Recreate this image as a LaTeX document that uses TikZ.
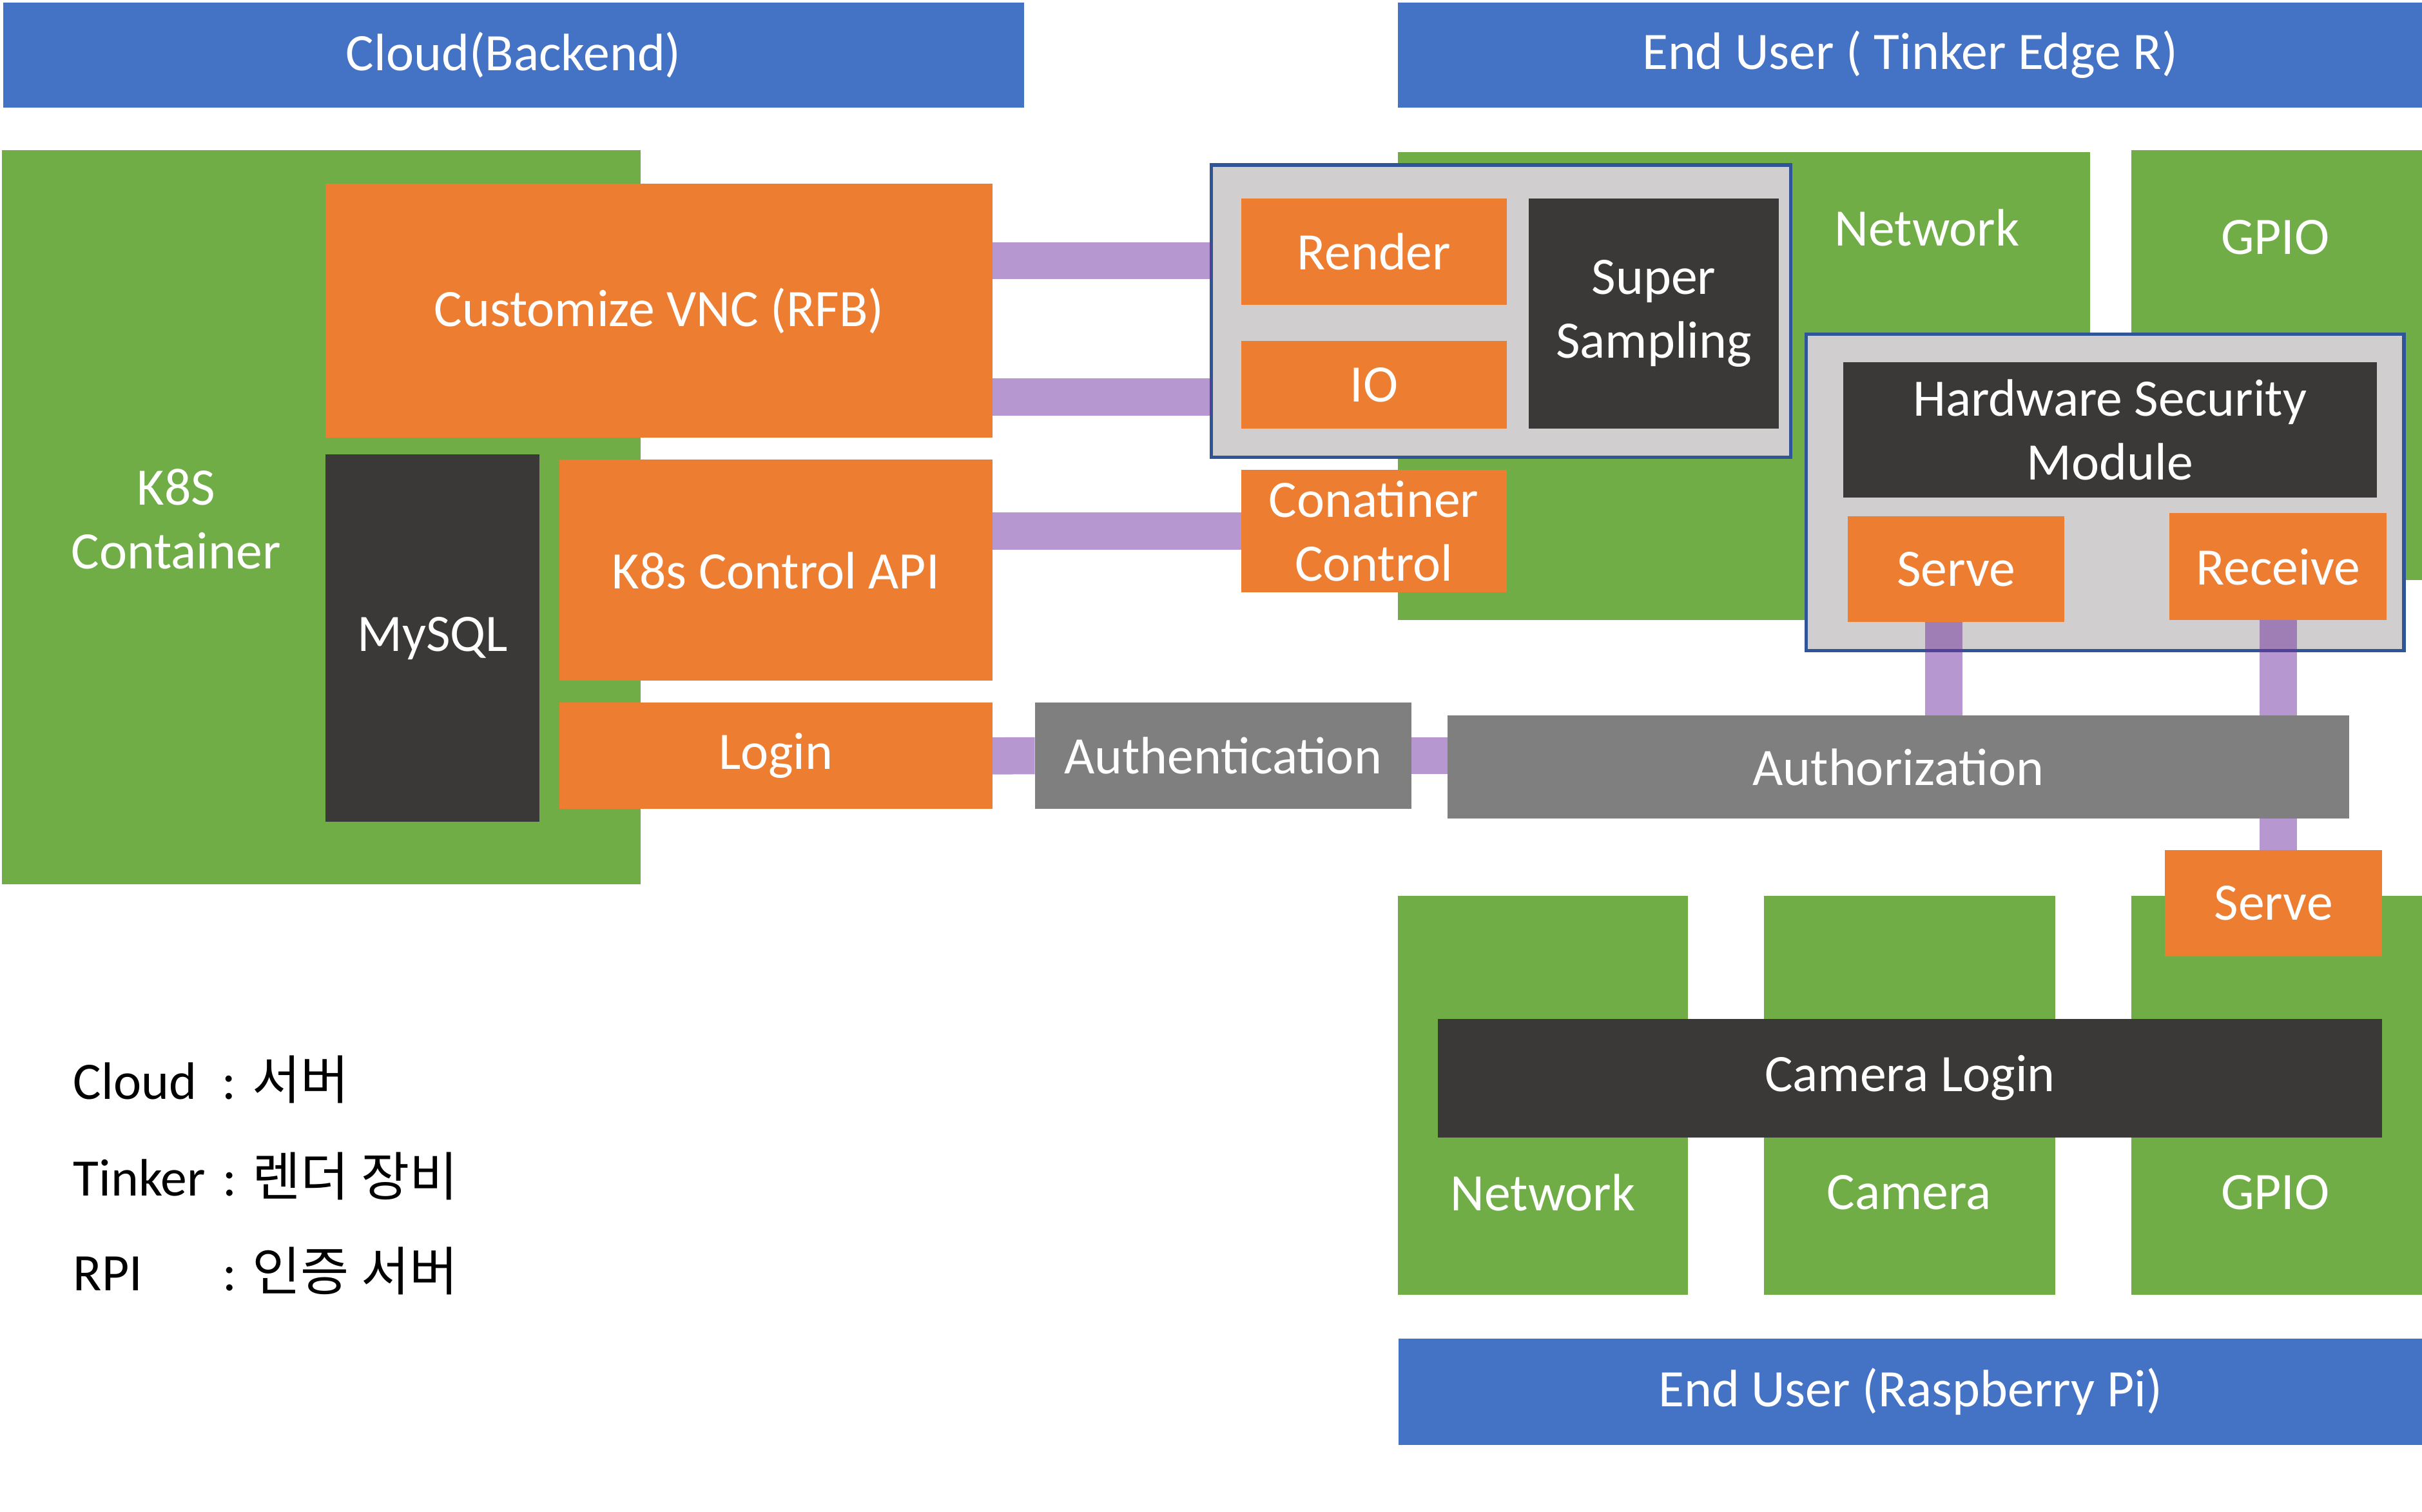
\documentclass[tikz,border=0pt]{standalone}
\usepackage{fontspec}
\setmainfont{Carlito}
\newfontfamily\kofont{Noto Sans CJK KR}
\usetikzlibrary{positioning}
\usetikzlibrary{calc}
\definecolor{ublue}{HTML}{4472C4}
\definecolor{ugreen}{HTML}{70AD47}
\definecolor{uorange}{HTML}{ED7D31}
\definecolor{udark}{HTML}{3B3838}
\definecolor{ugray}{HTML}{7F7F7F}
\definecolor{ulight}{HTML}{D0CECE}
\definecolor{uborder}{HTML}{2F5597}
\definecolor{upurple}{HTML}{7030A0}

\begin{document}
\begin{tikzpicture}[every node/.style={inner sep=0pt, outer sep=0pt, font=\fontsize{9.7}{11.7}\selectfont},
  box/.style={text=white, align=center},
  grp/.style={fill=ulight, draw=uborder, line width=0.65pt},
  link/.style={draw=upurple, draw opacity=0.5, line width=0.24cm}]
\useasboundingbox (0,0) rectangle (15.68,-9.788);
% banners
\node (cloud) at (3.325,-0.355) [box, fill=ublue, minimum width=6.61cm, minimum height=0.68cm] {Cloud(Backend)};
\node (tinker) at (12.365,-0.355) [box, fill=ublue, minimum width=6.63cm, minimum height=0.68cm] {End User ( Tinker Edge R)};
\node (rpi) at (12.367,-9.01) [box, fill=ublue, minimum width=6.627cm, minimum height=0.687cm] {End User (Raspberry Pi)};
% green areas
\node (k8s) at (2.08,-3.3475) [fill=ugreen, minimum width=4.131cm, minimum height=4.751cm] {};
\node (k8stxt) at (1.14,-3.36) [box] {K8S\\Container};
\node (netT) at (11.29,-2.4985) [fill=ugreen, minimum width=4.483cm, minimum height=3.027cm] {};
\node (nettxtT) at (12.476,-1.473) [box] {Network};
\node (gpioT) at (14.738,-2.364) [fill=ugreen, minimum width=1.884cm, minimum height=2.784cm] {};
\node (gpiotxtT) at (14.73,-1.537) [box] {GPIO};
\node (netB) at (9.9885,-7.0895) [fill=ugreen, minimum width=1.879cm, minimum height=2.583cm] {};
\node (nettxtB) at (9.989,-7.719) [box] {Network};
\node (camB) at (12.362,-7.0895) [fill=ugreen, minimum width=1.888cm, minimum height=2.583cm] {};
\node (camtxtB) at (12.358,-7.719) [box] {Camera};
\node (gpioB) at (14.738,-7.0895) [fill=ugreen, minimum width=1.884cm, minimum height=2.583cm] {};
\node (gpiotxtB) at (14.73,-7.719) [box] {GPIO};
% groups
\node (rgrp) at (9.717,-2.0145) [grp, minimum width=3.752cm, minimum height=1.893cm] {};
\node (hgrp) at (13.6285,-3.188) [grp, minimum width=3.869cm, minimum height=2.05cm] {};
% cloud side
\node (vnc) at (4.267,-2.012) [box, fill=uorange, minimum width=4.318cm, minimum height=1.646cm] {Customize VNC (RFB)};
\node (mysql) at (2.8005,-4.1315) [box, fill=udark, minimum width=1.385cm, minimum height=2.377cm] {MySQL};
\node (k8sapi) at (5.023,-3.6925) [box, fill=uorange, minimum width=2.806cm, minimum height=1.431cm] {K8s Control API};
\node (login) at (5.023,-4.8935) [box, fill=uorange, minimum width=2.806cm, minimum height=0.689cm] {Login};
\node (authn) at (7.9175,-4.893) [box, fill=ugray, minimum width=2.437cm, minimum height=0.69cm] {Authentication};
% tinker side
\node (render) at (8.8945,-1.6295) [box, fill=uorange, minimum width=1.721cm, minimum height=0.689cm] {Render};
\node (io) at (8.8945,-2.492) [box, fill=uorange, minimum width=1.721cm, minimum height=0.568cm] {IO};
\node (sampling) at (10.707,-2.0305) [box, fill=udark, minimum width=1.62cm, minimum height=1.491cm] {Super\\Sampling};
\node (ctrl) at (8.8945,-3.4385) [box, fill=uorange, minimum width=1.721cm, minimum height=0.795cm] {Conatiner\\Control};
\node (hsm) at (13.6595,-2.784) [box, fill=udark, minimum width=3.453cm, minimum height=0.878cm] {Hardware Security\\Module};
\node (hsmserve) at (12.6645,-3.6845) [box, fill=uorange, minimum width=1.401cm, minimum height=0.687cm] {Serve};
\node (receive) at (14.7485,-3.6685) [box, fill=uorange, minimum width=1.407cm, minimum height=0.693cm] {Receive};
\node (authz) at (12.289,-4.9655) [box, fill=ugray, minimum width=5.838cm, minimum height=0.667cm] {Authorization};
% raspberry side
\node (rpiserve) at (14.7185,-5.8465) [box, fill=uorange, minimum width=1.405cm, minimum height=0.689cm] {Serve};
\node (camlogin) at (12.3645,-6.9795) [box, fill=udark, minimum width=6.111cm, minimum height=0.769cm] {Camera Login};
% links
\coordinate (v1) at ([yshift=3.24mm]vnc.east);
\coordinate (v2) at ([yshift=-5.59mm]vnc.east);
\coordinate (hs) at ([xshift=-0.8mm]hsmserve.south);
\draw[link] (v1) -- (v1 -| rgrp.west);
\draw[link] (v2) -- (v2 -| rgrp.west);
\draw[link] (k8sapi.east |- ctrl.west) -- (ctrl.west);
\draw[link] (login.east) -- (authn.west);
\draw[link] (authn.east) -- (authn.east -| authz.west);
\draw[link] (hs) -- (hs |- authz.north);
\draw[link] (receive.south) -- (receive.south |- authz.north);
\draw[link] (receive.south |- authz.south) -- (receive.south |- rpiserve.north);
% legend
\node (lcloud) at (0.475,-7.117) [anchor=base west] {\makebox[2.83em][l]{Cloud}: {\kofont 서버}};
\node (ltinker) at (0.475,-7.74) [anchor=base west] {\makebox[2.83em][l]{Tinker}: {\kofont 렌더 장비}};
\node (lrpi) at (0.475,-8.355) [anchor=base west] {\makebox[2.83em][l]{RPI}: {\kofont 인증 서버}};
\end{tikzpicture}
\end{document}
